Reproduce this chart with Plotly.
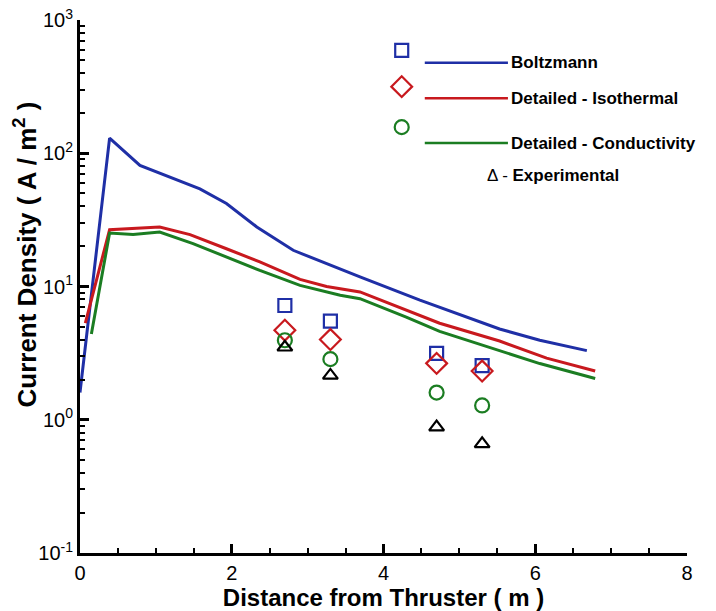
import plotly.graph_objects as go

# ---------------- data ----------------
boltz_x = [0.0, 0.39, 0.79, 1.58, 1.93, 2.33, 2.81, 3.25, 3.69, 4.48, 5.0, 5.53, 6.06, 6.68]
boltz_y = [1.6, 130, 81, 54, 42, 28, 18.7, 14.8, 11.8, 7.9, 6.2, 4.8, 3.95, 3.3]

iso_x = [0.07, 0.39, 1.05, 1.45, 1.93, 2.37, 2.9, 3.25, 3.69, 4.3, 4.74, 5.53, 6.15, 6.79]
iso_y = [5.3, 26.7, 27.9, 24.5, 19.2, 15.3, 11.3, 10.0, 9.1, 6.6, 5.3, 3.9, 2.9, 2.32]

cond_x = [0.15, 0.39, 0.70, 1.05, 1.49, 1.93, 2.37, 2.9, 3.43, 3.69, 4.3, 4.74, 5.53, 6.06, 6.79]
cond_y = [4.4, 25.2, 24.6, 25.6, 21, 16.6, 13.2, 10.2, 8.6, 8.1, 5.9, 4.6, 3.3, 2.64, 2.04]

probe_x = [2.7, 3.3, 4.7, 5.3]
boltz_pts = [7.2, 5.5, 3.15, 2.55]
iso_pts = [4.7, 4.0, 2.65, 2.32]
cond_pts = [3.95, 2.85, 1.6, 1.28]
exp_pts = [3.5, 2.15, 0.88, 0.66]

x_ticks = [0, 2, 4, 6, 8]
y_ticks = [0.1, 1, 10, 100, 1000]
y_ticktext = ["10<sup>-1</sup>", "10<sup>0</sup>", "10<sup>1</sup>", "10<sup>2</sup>", "10<sup>3</sup>"]
y_minor = [m * 10.0 ** e for e in range(-1, 3) for m in range(2, 10)]

legend_names = ["Boltzmann", "Detailed - Isothermal", "Detailed - Conductivity"]

BLUE = "#1f2fa6"
RED = "#c8191e"
GREEN = "#1b7d22"
BLACK = "#000000"
FONT = "Liberation Sans, Arial, sans-serif"

fig = go.Figure()

# model curves
for xs, ys, c in [(boltz_x, boltz_y, BLUE), (iso_x, iso_y, RED), (cond_x, cond_y, GREEN)]:
    fig.add_trace(go.Scatter(x=xs, y=ys, mode="lines", line=dict(color=c, width=3),
                             showlegend=False, hoverinfo="skip"))

# probe markers
for ys, sym, c, sz in [(boltz_pts, "square-open", BLUE, 13),
                       (iso_pts, "diamond-open", RED, 16),
                       (cond_pts, "circle-open", GREEN, 14),
                       (exp_pts, "triangle-up-open", BLACK, 13)]:
    fig.add_trace(go.Scatter(x=probe_x, y=ys, mode="markers",
                             marker=dict(symbol=sym, size=sz, color=c, line=dict(color=c, width=2.2)),
                             showlegend=False, hoverinfo="skip"))

# custom legend on an overlay axis (0..1 paper-like)
leg_marker_y = [0.943, 0.875, 0.799]
leg_line_y = [0.920, 0.853, 0.769]
leg_syms = [("square-open", BLUE, 13), ("diamond-open", RED, 16), ("circle-open", GREEN, 14)]
for (sym, c, sz), my, ly, name in zip(leg_syms, leg_marker_y, leg_line_y, legend_names):
    fig.add_trace(go.Scatter(x=[0.530], y=[my], xaxis="x2", yaxis="y2", mode="markers",
                             marker=dict(symbol=sym, size=sz, color=c, line=dict(color=c, width=2.2)),
                             showlegend=False, hoverinfo="skip"))
    fig.add_trace(go.Scatter(x=[0.568, 0.705], y=[ly, ly], xaxis="x2", yaxis="y2", mode="lines",
                             line=dict(color=c, width=2.5), showlegend=False, hoverinfo="skip"))
    fig.add_annotation(x=0.706, y=ly, xref="paper", yref="paper", text="<b>" + name + "</b>",
                       showarrow=False, xanchor="left", yanchor="middle",
                       font=dict(family=FONT, size=17, color=BLACK))

fig.add_annotation(x=0.668, y=0.709, xref="paper", yref="paper",
                   text="Δ - <b>Experimental</b>", showarrow=False, xanchor="left", yanchor="middle",
                   font=dict(family=FONT, size=17, color=BLACK))

# y-axis title (placed slightly above centre, as in the reference)
fig.add_annotation(x=-0.089, y=0.56, xref="paper", yref="paper", textangle=-90,
                   text="<b>Current Density ( A / m<sup>2</sup> )</b>", showarrow=False,
                   xanchor="center", yanchor="middle", font=dict(family=FONT, size=26, color=BLACK))

fig.update_layout(
    width=716, height=611,
    margin=dict(l=80, r=29, t=20, b=58, autoexpand=False),
    paper_bgcolor="white", plot_bgcolor="white",
    font=dict(family=FONT, color=BLACK),
    xaxis=dict(range=[0, 8], tickvals=x_ticks, ticks="inside", ticklen=9, tickwidth=2.5,
               tickcolor=BLACK, showline=True, linewidth=3, linecolor=BLACK, showgrid=False,
               zeroline=False, tickfont=dict(size=20, family=FONT),
               minor=dict(dtick=0.5, ticks="inside", ticklen=5, tickwidth=1.5, tickcolor=BLACK),
               title=dict(text="<b>Distance from Thruster ( m )</b>", font=dict(size=24, family=FONT),
                          standoff=0)),
    yaxis=dict(type="log", range=[-1, 3], tickvals=y_ticks, ticktext=y_ticktext, ticks="inside",
               ticklen=9, tickwidth=2.5, tickcolor=BLACK, showline=True, linewidth=3,
               linecolor=BLACK, showgrid=False, zeroline=False, tickfont=dict(size=20, family=FONT),
               minor=dict(tickvals=y_minor, ticks="inside", ticklen=5, tickwidth=1.5, tickcolor=BLACK)),
    xaxis2=dict(overlaying="x", range=[0, 1], visible=False, domain=[0, 1]),
    yaxis2=dict(overlaying="y", range=[0, 1], visible=False),
)

fig.write_html("out.html", config={"displayModeBar": False},
               post_script="document.body.style.margin='0';")
